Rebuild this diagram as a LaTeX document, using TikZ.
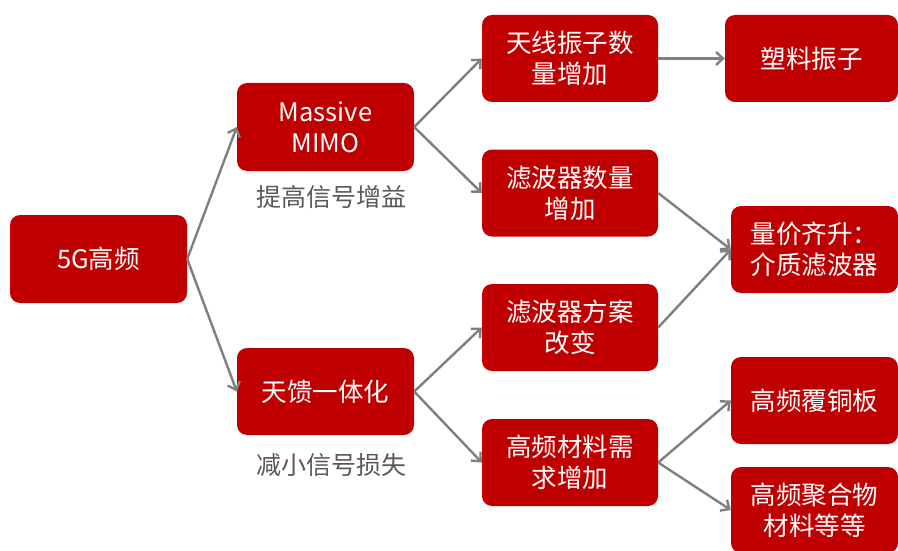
\documentclass[tikz,border=0pt]{standalone}
\usepackage{fontspec}
\setmainfont{Noto Sans CJK SC}
\usetikzlibrary{arrows.meta}
\definecolor{boxred}{HTML}{C00000}
\definecolor{arrowgray}{HTML}{7F7F7F}
\definecolor{labelgray}{HTML}{595959}
\tikzset{
  rbox/.style={fill=boxred, rounded corners=10pt, text=white, align=center,
    inner sep=0pt, font=\fontsize{25.5pt}{31pt}\selectfont,
    minimum width=176pt, minimum height=87pt},
  rboxs/.style={rbox, minimum width=167pt},
  lbl/.style={text=labelgray, inner sep=0pt, font=\fontsize{25pt}{31pt}\selectfont},
  conn/.style={draw=arrowgray, line width=2.4pt,
    -{Straight Barb[length=7pt,width=13pt,line width=2.4pt]}}
}
\begin{document}
\begin{tikzpicture}[x=1pt, y=-1pt]
\useasboundingbox (0,0) rectangle (898,551);
\node[rbox, minimum width=177pt, minimum height=88pt] (a) at (98.5,259) {5G高频};
\node[rbox, minimum width=177pt, minimum height=88pt] (b) at (325.5,127) {Massive\\MIMO};
\node[rbox, minimum width=177pt] (c) at (325.5,391.5) {天馈一体化};
\node[lbl] (lb) at (331,197) {提高信号增益};
\node[lbl] (lc) at (331,465) {减小信号损失};
\node[rbox] (d) at (570,58.5) {天线振子数\\量增加};
\node[rbox] (e) at (570,193) {滤波器数量\\增加};
\node[rbox] (f) at (570,327.5) {滤波器方案\\改变};
\node[rbox] (g) at (570,462.5) {高频材料需\\求增加};
\node[rbox, minimum width=173pt] (h) at (811.5,58.5) {塑料振子};
\node[rboxs] (i) at (814.5,249.5) {量价齐升：\\介质滤波器};
\node[rboxs] (j) at (814.5,400.5) {高频覆铜板};
\node[rboxs, minimum height=86pt] (k) at (814.5,510) {高频聚合物\\材料等等};
\draw[conn] (a.east) -- (b.west);
\draw[conn] (a.east) -- (c.west);
\draw[conn] (b.east) -- (d.west);
\draw[conn] (b.east) -- (e.west);
\draw[conn] (c.east) -- (f.west);
\draw[conn] (c.east) -- (g.west);
\draw[conn] (d.east) -- (h.west);
\draw[conn] (e.east) -- (i.west);
\draw[conn] (f.east) -- (i.west);
\draw[conn] (g.east) -- (j.west);
\draw[conn] (g.east) -- (k.west);
\end{tikzpicture}
\end{document}
